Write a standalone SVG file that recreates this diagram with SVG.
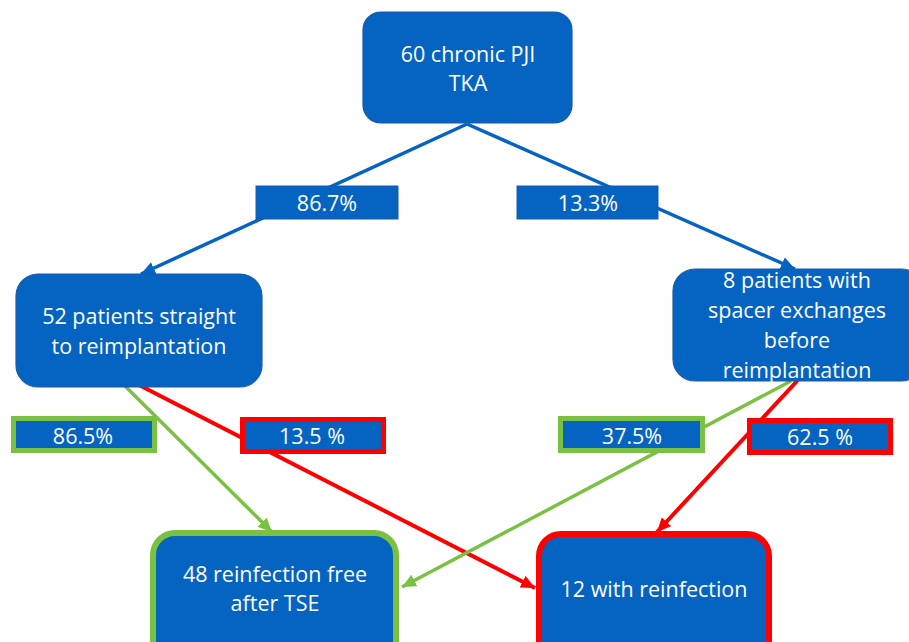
<svg xmlns="http://www.w3.org/2000/svg" width="909" height="642" viewBox="0 0 909 642">
<style>
.node{fill:#0563C1;stroke:#1A5BA8;stroke-width:1.2}
.lbl{fill:#0563C1;stroke:#1A5BA8;stroke-width:1}
.gl{fill:#0563C1;stroke:#7AC143;stroke-width:5}
.rl{fill:#0563C1;stroke:#FF0000;stroke-width:5}
.gn{fill:#0563C1;stroke:#7AC143;stroke-width:6}
.rn{fill:#0563C1;stroke:#FF0000;stroke-width:6}
text{font-family:"Open Sans","Liberation Sans",sans-serif;font-size:21.5px;fill:#FFFFFF;text-anchor:middle}
.cb{stroke:#0563C1;stroke-width:3.5;fill:none}
.cg{stroke:#7AC143;stroke-width:3.5;fill:none}
.cr{stroke:#FF0000;stroke-width:4;fill:none}
</style>
<defs>
<marker id="ab" markerUnits="userSpaceOnUse" markerWidth="15" markerHeight="13" refX="14" refY="6.5" orient="auto"><path d="M0,0 L14,6.5 L0,13 z" fill="#0563C1"/></marker>
<marker id="ag" markerUnits="userSpaceOnUse" markerWidth="15" markerHeight="13" refX="14" refY="6.5" orient="auto"><path d="M0,0 L14,6.5 L0,13 z" fill="#7AC143"/></marker>
<marker id="ar" markerUnits="userSpaceOnUse" markerWidth="15" markerHeight="13" refX="14" refY="6.5" orient="auto"><path d="M0,0 L14,6.5 L0,13 z" fill="#FF0000"/></marker>
</defs>
<rect width="909" height="642" fill="#FFFFFF"/>
<g id="connectors">
<line class="cb" x1="467" y1="124" x2="141" y2="274" marker-end="url(#ab)"/>
<line class="cb" x1="467" y1="124" x2="795" y2="269" marker-end="url(#ab)"/>
<line class="cg" x1="125" y1="386" x2="272" y2="532" marker-end="url(#ag)"/>
<line class="cr" x1="139" y1="385" x2="535" y2="588" marker-end="url(#ar)"/>
<line class="cg" x1="791" y1="381" x2="402" y2="587" marker-end="url(#ag)"/>
<line class="cr" x1="798" y1="380" x2="657" y2="532" marker-end="url(#ar)"/>
</g>
<g id="n-top">
<rect class="node" x="363" y="12" width="209" height="111" rx="18"/>
<text x="468" y="62">60 chronic PJI</text>
<text x="468" y="91">TKA</text>
</g>
<g id="n-left">
<rect class="node" x="16" y="274" width="246" height="113" rx="22"/>
<text x="139" y="324">52 patients straight</text>
<text x="139" y="354">to reimplantation</text>
</g>
<g id="n-right">
<rect class="node" x="673" y="269" width="250" height="112" rx="22"/>
<text x="797" y="288">8 patients with</text>
<text x="797" y="318">spacer exchanges</text>
<text x="797" y="348">before</text>
<text x="797" y="378">reimplantation</text>
</g>
<g id="l-867">
<rect class="lbl" x="256" y="186" width="142" height="33"/>
<text x="327" y="211">86.7%</text>
</g>
<g id="l-133">
<rect class="lbl" x="517" y="186" width="141" height="33"/>
<text x="588" y="211">13.3%</text>
</g>
<g id="l-865">
<rect class="gl" x="13.5" y="418.5" width="141" height="32"/>
<text x="83" y="444">86.5%</text>
</g>
<g id="l-135">
<rect class="rl" x="242.5" y="419.5" width="141" height="32"/>
<text x="312" y="444">13.5 %</text>
</g>
<g id="l-375">
<rect class="gl" x="560.5" y="418.5" width="142" height="32"/>
<text x="632" y="444">37.5%</text>
</g>
<g id="l-625">
<rect class="rl" x="749.5" y="420.5" width="141" height="32"/>
<text x="820" y="445">62.5 %</text>
</g>
<g id="n-free">
<rect class="gn" x="153" y="533" width="243" height="130" rx="22"/>
<text x="275" y="582">48 reinfection free</text>
<text x="275" y="611">after TSE</text>
</g>
<g id="n-reinf">
<rect class="rn" x="539" y="534" width="230" height="130" rx="22"/>
<text x="654" y="597">12 with reinfection</text>
</g>
</svg>
